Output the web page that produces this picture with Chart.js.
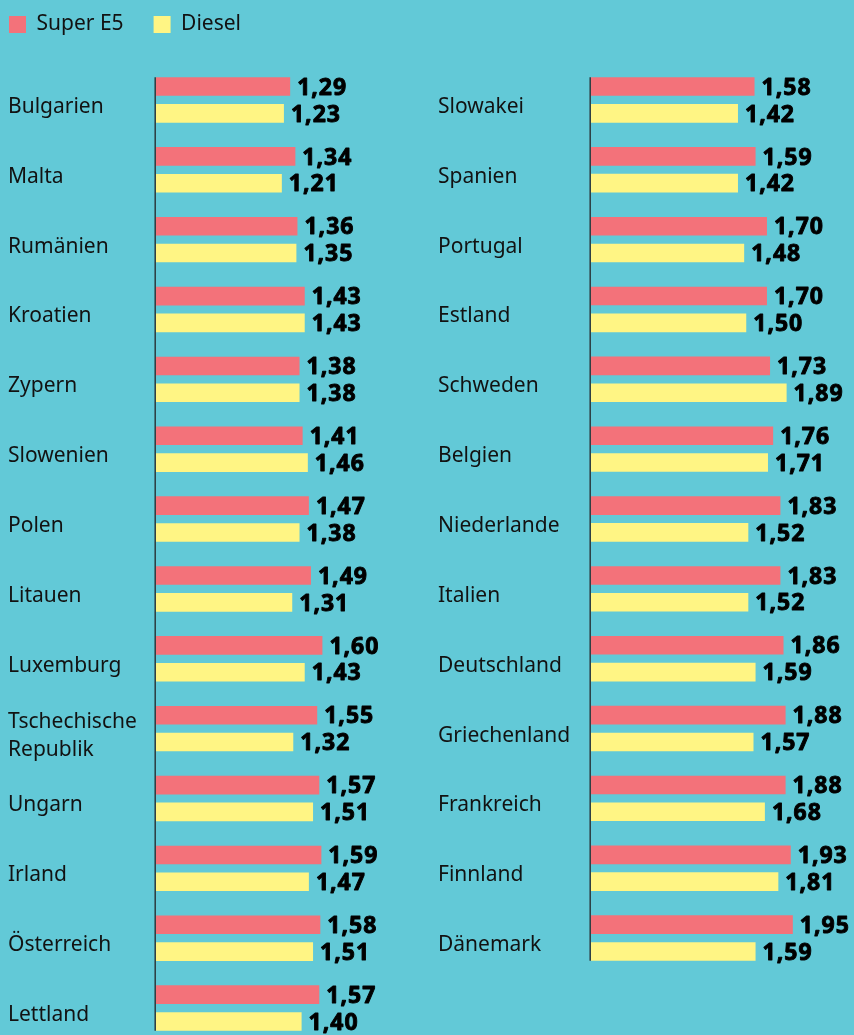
<!DOCTYPE html>
<html>
<head>
<meta charset="utf-8">
<script src="https://cdn.jsdelivr.net/npm/chart.js@4.4.1/dist/chart.umd.min.js"></script>
<style>
  html, body { margin: 0; padding: 0; background: #62c9d7; overflow: hidden; width: 854px; height: 1035px; }
  #left { position: absolute; left: 0; top: 0; }
  #right { position: absolute; left: 430px; top: 0; }
</style>
</head>
<body>
<canvas id="left" width="430" height="1063"></canvas>
<canvas id="right" width="424" height="993"></canvas>
<script>
const seriesNames = ['Super E5', 'Diesel'];

const leftCountries = ['Bulgarien', 'Malta', 'Rumänien', 'Kroatien', 'Zypern', 'Slowenien', 'Polen', 'Litauen', 'Luxemburg', ['Tschechische', 'Republik'], 'Ungarn', 'Irland', 'Österreich', 'Lettland'];
const leftSuper  = [1.29, 1.34, 1.36, 1.43, 1.38, 1.41, 1.47, 1.49, 1.60, 1.55, 1.57, 1.59, 1.58, 1.57];
const leftDiesel = [1.23, 1.21, 1.35, 1.43, 1.38, 1.46, 1.38, 1.31, 1.43, 1.32, 1.51, 1.47, 1.51, 1.40];

const rightCountries = ['Slowakei', 'Spanien', 'Portugal', 'Estland', 'Schweden', 'Belgien', 'Niederlande', 'Italien', 'Deutschland', 'Griechenland', 'Frankreich', 'Finnland', 'Dänemark'];
const rightSuper  = [1.58, 1.59, 1.70, 1.70, 1.73, 1.76, 1.83, 1.83, 1.86, 1.88, 1.88, 1.93, 1.95];
const rightDiesel = [1.42, 1.42, 1.48, 1.50, 1.89, 1.71, 1.52, 1.52, 1.59, 1.57, 1.68, 1.81, 1.59];

const RED = '#f3727a';
const YELLOW = '#fff584';
const TEXT = '#121212';
const FONT = '"Noto Sans", "Open Sans", sans-serif';

const valueLabels = {
  id: 'valueLabels',
  afterDatasetsDraw(chart) {
    const ctx = chart.ctx;
    ctx.save();
    ctx.font = 'bold 23px ' + FONT;
    if ('letterSpacing' in ctx) ctx.letterSpacing = '1px';
    ctx.fillStyle = '#000';
    ctx.strokeStyle = '#000';
    ctx.lineWidth = 0.9;
    ctx.lineJoin = 'round';
    ctx.textAlign = 'left';
    ctx.textBaseline = 'alphabetic';
    chart.data.datasets.forEach((ds, i) => {
      const meta = chart.getDatasetMeta(i);
      meta.data.forEach((el, j) => {
        const txt = ds.data[j].toFixed(2).replace('.', ',');
        ctx.fillText(txt, el.x + 7, el.y + 8.2);
        ctx.strokeText(txt, el.x + 7, el.y + 8.2);
      });
    });
    ctx.restore();
  }
};

const axisLine = {
  id: 'axisLine',
  afterDatasetsDraw(chart) {
    const m0 = chart.getDatasetMeta(0).data;
    const m1 = chart.getDatasetMeta(1).data;
    const first = m0[0], last = m1[m1.length - 1];
    const top = first.y - first.height / 2;
    const bottom = last.y + last.height / 2;
    const x = chart.chartArea.left - 0.8;
    const ctx = chart.ctx;
    ctx.save();
    ctx.strokeStyle = '#2c3a3e';
    ctx.lineWidth = 1.5;
    ctx.beginPath();
    ctx.moveTo(x, top);
    ctx.lineTo(x, bottom);
    ctx.stroke();
    ctx.restore();
  }
};

const legendPlace = {
  id: 'legendPlace',
  beforeUpdate(chart) {
    const lg = chart.legend;
    if (lg && !lg._patched) {
      const f = lg.fit;
      lg.fit = function () {
        f.call(this);
        if (this.options && this.options.display) this.height = 65;
      };
      lg._patched = true;
    }
  },
  afterLayout(chart) {
    const lg = chart.legend;
    if (lg && lg.options && lg.options.display) {
      const p = lg.options.labels.padding;
      lg.left = 9 - p;
      lg.top = 14 - p;
    }
  }
};

function makeChart(id, labels, sup, dsl, axisWidth, pad, showLegend) {
  return new Chart(document.getElementById(id), {
    type: 'bar',
    data: {
      labels: labels,
      datasets: [
        { label: seriesNames[0], data: sup, backgroundColor: RED, borderWidth: 0 },
        { label: seriesNames[1], data: dsl, backgroundColor: YELLOW, borderWidth: 0 }
      ]
    },
    options: {
      indexAxis: 'y',
      responsive: false,
      animation: false,
      devicePixelRatio: 1,
      categoryPercentage: 0.768,
      barPercentage: 0.694,
      layout: { padding: pad },
      scales: {
        x: { display: false, min: 0, max: 2 },
        y: {
          grid: { display: false },
          border: { display: false },
          afterFit(scale) { scale.width = axisWidth; },
          ticks: {
            autoSkip: false,
            crossAlign: 'far',
            labelOffset: 7,
            color: TEXT,
            font: { family: FONT, size: 21, lineHeight: 1.333 }
          }
        }
      },
      plugins: {
        legend: {
          display: showLegend,
          position: 'top',
          align: 'start',
          labels: {
            boxWidth: 17,
            boxHeight: 17,
            padding: 30,
            color: TEXT,
            font: { family: FONT, size: 21 }
          }
        },
        tooltip: { enabled: false }
      }
    },
    plugins: [legendPlace, axisLine, valueLabels]
  });
}

makeChart('left', leftCountries, leftSuper, leftDiesel, 148, { left: 8, right: 66, top: 0, bottom: 20 }, true);
makeChart('right', rightCountries, rightSuper, rightDiesel, 153, { left: 8, right: 56, top: 65, bottom: 20 }, false);
</script>
</body>
</html>
